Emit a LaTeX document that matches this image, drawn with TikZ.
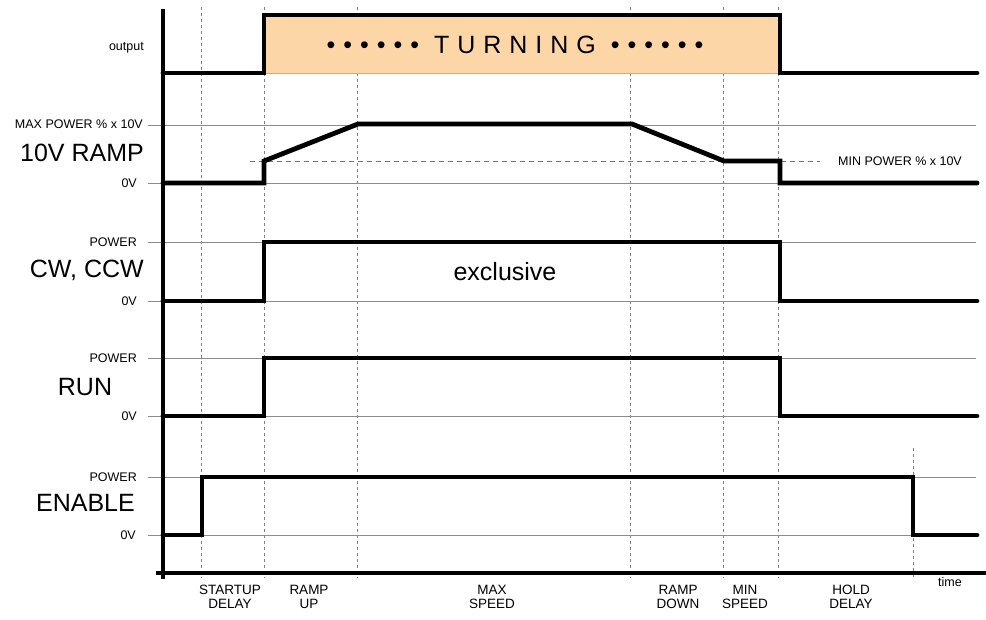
\documentclass[tikz,border=0pt]{standalone}
\usepackage{fontspec}
\setmainfont{Liberation Sans}
\definecolor{peach}{RGB}{253,214,168}
\tikzset{
  sig/.style={line width=4.8pt, line cap=round, line join=miter},
  gridline/.style={draw=black!45, line width=0.8pt},
  vdash/.style={draw=black!50, line width=0.8pt, dash pattern=on 3pt off 3pt},
  hdash/.style={draw=black!55, line width=0.8pt, dash pattern=on 5pt off 4pt},
  axisline/.style={line width=3.2pt},
  small/.style={font=\fontsize{12.5}{14}\selectfont, inner sep=0pt},
  big/.style={font=\fontsize{25}{28}\selectfont, inner sep=0pt},
  phase/.style={font=\fontsize{13.5}{14.5}\selectfont, inner sep=0pt, align=center},
}
\begin{document}
\begin{tikzpicture}[x=1pt,y=-1pt]
\useasboundingbox (0,0) rectangle (986,619);
% dashed phase boundaries
\foreach \t in {201,264,357,630,723,778}
  \draw[vdash] (\t,7) -- (\t,578);
\draw[vdash] (913,448) -- (913,578);
% turning box fill
\fill[peach] (264,15) rectangle (780,73);
\draw[draw=black!30, line width=0.8pt] (264,73) -- (780,73);
% grid lines
\foreach \yy in {125,183,242,301,358,416,477,535}
  \draw[gridline] (148,\yy) -- (976,\yy);
\draw[hdash] (250,161) -- (820,161);
% signals
\draw[sig] (163,73) -- (264,73) -- (264,15) -- (780,15) -- (780,73) -- (977,73);
\draw[sig] (163,183) -- (264,183) -- (264,161) -- (358,124) -- (632,124) -- (724,161) -- (780,161) -- (780,183) -- (977,183);
\draw[sig] (163,301) -- (264,301) -- (264,242) -- (780,242) -- (780,301) -- (977,301);
\draw[sig] (163,416) -- (264,416) -- (264,358) -- (780,358) -- (780,416) -- (977,416);
\draw[sig] (163,535) -- (202,535) -- (202,477) -- (913,477) -- (913,535) -- (977,535);
% axes
\draw[axisline] (163,9) -- (163,579);
\draw[axisline] (156,573) -- (986,573);
% text
\node[font=\fontsize{25}{28}\selectfont\addfontfeature{LetterSpace=32}, inner sep=0pt] (turning) at (515,45) {••••••\ TURNING\ ••••••};
\node[small, anchor=east] (out) at (144,48) {output};
\node[small, anchor=east] (maxp) at (143,124) {MAX POWER \% x 10V};
\node[big, anchor=east] (ramp) at (144,153) {10V RAMP};
\node[small, anchor=east] (r0) at (137,183) {0V};
\node[small, anchor=west] (minp) at (838,161) {MIN POWER \% x 10V};
\node[small, anchor=east] (cwp) at (137,242) {POWER};
\node[big, anchor=east] (cw) at (144,270) {CW, CCW};
\node[small, anchor=east] (cw0) at (137,301) {0V};
\node[big] (excl) at (505,272) {exclusive};
\node[small, anchor=east] (runp) at (137,358) {POWER};
\node[big] (run) at (85,387) {RUN};
\node[small, anchor=east] (run0) at (137,416) {0V};
\node[small, anchor=east] (enp) at (137,477) {POWER};
\node[big] (en) at (85.5,503) {ENABLE};
\node[small, anchor=east] (en0) at (136,535) {0V};
\node[phase] (p1) at (230,597) {STARTUP\\DELAY};
\node[phase] (p2) at (309,597) {RAMP\\UP};
\node[phase] (p3) at (492,597) {MAX\\SPEED};
\node[phase] (p4) at (678,597) {RAMP\\DOWN};
\node[phase] (p5) at (745,597) {MIN\\SPEED};
\node[phase] (p6) at (851,597) {HOLD\\DELAY};
\node[small] (time) at (950,582) {time};
\end{tikzpicture}
\end{document}
